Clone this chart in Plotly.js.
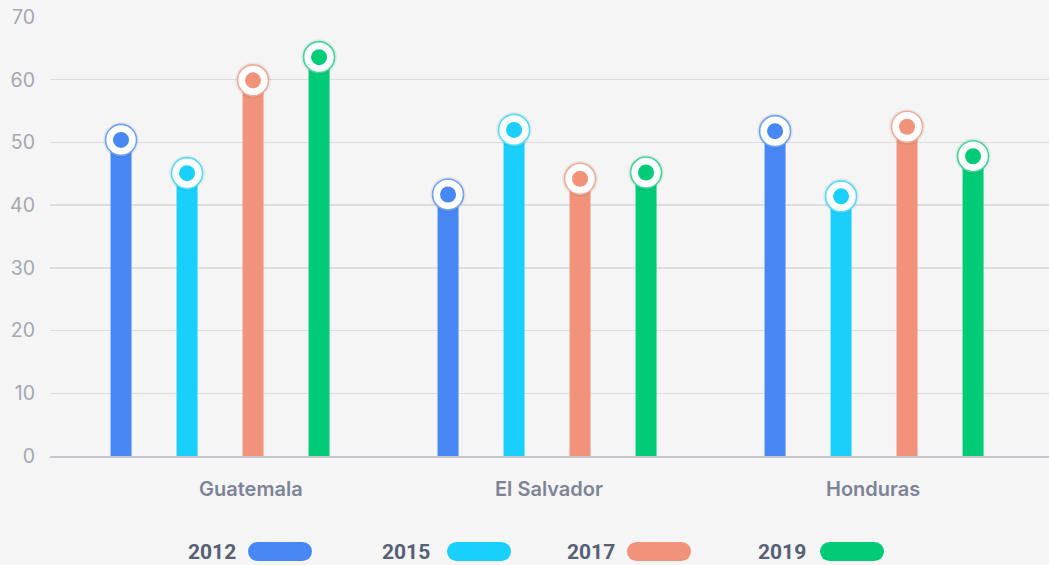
<!DOCTYPE html>
<html><head><meta charset="utf-8">
<script src="https://cdn.plot.ly/plotly-3.0.1.min.js"></script>
<style>html,body{margin:0;padding:0;background:#f5f5f5;}#chart{width:1049px;height:565px;}</style>
</head><body><div id="chart"></div>
<script>
const countries = ['Guatemala', 'El Salvador', 'Honduras'];
const years = ['2012', '2015', '2017', '2019'];
const v2012 = [50.4, 41.7, 51.8];
const v2015 = [45.1, 52.0, 41.4];
const v2017 = [59.9, 44.2, 52.5];
const v2019 = [63.6, 45.2, 47.8];
const yTicks = [0, 10, 20, 30, 40, 50, 60, 70];
const colors = ['#4788f4', '#18d0fb', '#f0937a', '#00cc77'];
const borderColors = ['#6fa2f6', '#52dcfb', '#f3ab98', '#3fd795'];

const series = [v2012, v2015, v2017, v2019];
const offsets = [-0.3028, -0.1009, 0.1009, 0.3028];
const labelOffsets = [0.095, 0.006, -0.003];
const barW = 0.0642;

const traces = [];
series.forEach((vals, s) => {
  const xs = countries.map((c, i) => i + offsets[s]);
  traces.push({type: 'bar', x: xs, y: vals, width: barW, marker: {color: colors[s], line: {width: 0}},
    hoverinfo: 'y', showlegend: false, name: years[s]});
});
series.forEach((vals, s) => {
  const xs = countries.map((c, i) => i + offsets[s]);
  traces.push({type: 'scatter', mode: 'markers', x: xs, y: vals, cliponaxis: false,
    marker: {size: 36, color: 'rgba(0,0,0,0.05)', line: {width: 0}}, hoverinfo: 'skip', showlegend: false});
  traces.push({type: 'scatter', mode: 'markers', x: xs, y: vals, cliponaxis: false,
    marker: {size: 31, color: '#ffffff', line: {width: 1.6, color: borderColors[s]}}, hoverinfo: 'skip', showlegend: false});
  traces.push({type: 'scatter', mode: 'markers', x: xs, y: vals, cliponaxis: false,
    marker: {size: 16, color: colors[s], line: {width: 0}}, hoverinfo: 'skip', showlegend: false, name: years[s]});
});

const L = 50, T = 17, W = 1049, H = 565, B = 109;
const pw = W - L, ph = H - T - B;
const px2paper = p => (p - L) / pw;
const py2paper = p => (H - B - p) / ph;

const annotations = countries.map((c, i) => ({
  x: i + labelOffsets[i], xref: 'x', y: py2paper(489), yref: 'paper', text: c, showarrow: false,
  xanchor: 'center', yanchor: 'middle',
  font: {family: 'Inter, Roboto, sans-serif', size: 20, weight: 600, color: '#7e8496'}
}));
const legTextRight = [238, 432, 617, 808];
const legPillLeft = [248, 447, 627, 820];
const pillW = 64, pillH = 19, legY = 551.5;
const shapes = [];
years.forEach((yr, s) => {
  annotations.push({x: px2paper(legTextRight[s]), xref: 'paper', y: py2paper(legY), yref: 'paper',
    text: '<b>' + yr + '</b>', showarrow: false, xanchor: 'right', yanchor: 'middle',
    font: {family: 'Roboto, sans-serif', size: 21, color: '#566075'}});
  const xa = px2paper(legPillLeft[s]), ya = py2paper(legY), r = pillH / 2;
  const common = {xref: 'paper', yref: 'paper', xsizemode: 'pixel', ysizemode: 'pixel',
    xanchor: xa, yanchor: ya, fillcolor: colors[s], line: {width: 0}, layer: 'above'};
  shapes.push(Object.assign({type: 'rect', x0: r, x1: pillW - r, y0: -r, y1: r}, common));
  shapes.push(Object.assign({type: 'circle', x0: 0, x1: 2 * r, y0: -r, y1: r}, common));
  shapes.push(Object.assign({type: 'circle', x0: pillW - 2 * r, x1: pillW, y0: -r, y1: r}, common));
});

const layout = {
  width: W, height: H,
  margin: {l: L, r: 0, t: T, b: B, pad: 0},
  paper_bgcolor: '#f5f5f5', plot_bgcolor: '#f5f5f5',
  barmode: 'overlay', showlegend: false,
  xaxis: {range: [-0.52, 2.535], showgrid: false, zeroline: false, showticklabels: false, ticks: '',
    showline: true, linecolor: '#c3c7cd', linewidth: 2, fixedrange: true},
  yaxis: {range: [0, 70], tickvals: yTicks, showgrid: true, gridcolor: '#dcdce1', gridwidth: 1.5,
    zeroline: false, showline: false, ticks: '', ticklabelstandoff: 14,
    tickfont: {family: 'Inter, Roboto, sans-serif', size: 19.5, color: '#a4a8b1'}, fixedrange: true},
  annotations: annotations, shapes: shapes
};
Plotly.newPlot('chart', traces, layout, {displayModeBar: false, staticPlot: true});
</script></body></html>
